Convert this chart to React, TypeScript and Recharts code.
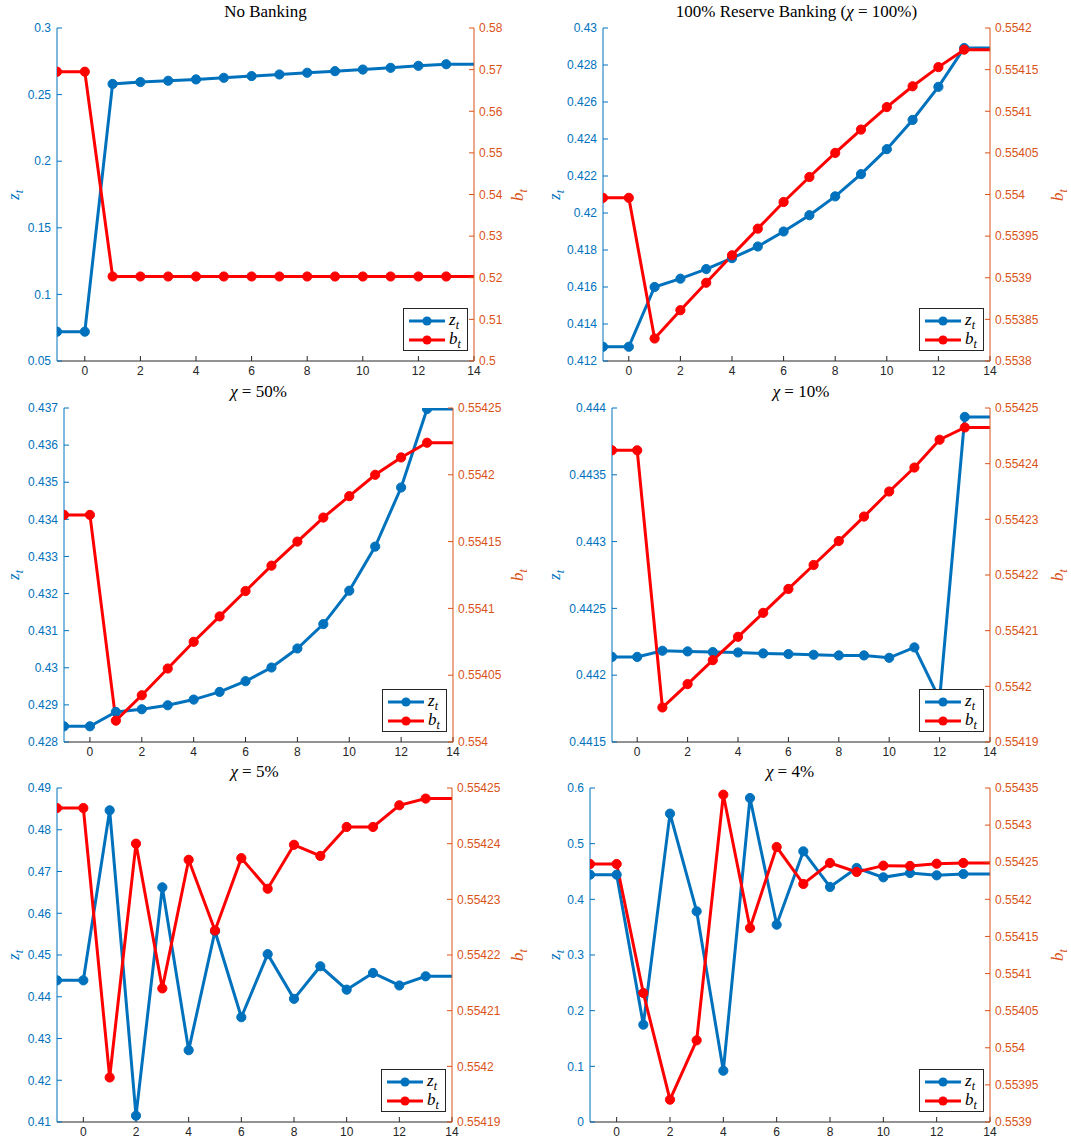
import React from 'react'
import { LineChart, Line, XAxis, YAxis, Legend } from 'recharts'

// time axis, the last point (t = 14) only carries the line to the edge
const periods = [-1, 0, 1, 2, 3, 4, 5, 6, 7, 8, 9, 10, 11, 12, 13, 14]
const xTicks = [0, 2, 4, 6, 8, 10, 12, 14]
const legendOrder = ['z', 'b']

// No Banking
const noBankZ = [0.072, 0.072, 0.258, 0.2594, 0.2604, 0.2614, 0.2626, 0.2639, 0.2651, 0.2664, 0.2676, 0.2688, 0.2701, 0.2716, 0.2728, 0.2728]
const noBankB = [0.5695, 0.5695, 0.5203, 0.5203, 0.5203, 0.5203, 0.5203, 0.5203, 0.5203, 0.5203, 0.5203, 0.5203, 0.5203, 0.5203, 0.5203, 0.5203]
const noBankZTicks = [0.05, 0.1, 0.15, 0.2, 0.25, 0.3]
const noBankBTicks = [0.5, 0.51, 0.52, 0.53, 0.54, 0.55, 0.56, 0.57, 0.58]

// chi = 100%
const chi100Z = [0.41277, 0.41277, 0.416, 0.41645, 0.41697, 0.41756, 0.41819, 0.419, 0.41988, 0.4209, 0.4221, 0.42345, 0.42503, 0.42682, 0.42892, 0.42892]
const chi100B = [0.553996, 0.553996, 0.553827, 0.553861, 0.553894, 0.553927, 0.553959, 0.553991, 0.554021, 0.55405, 0.554078, 0.554105, 0.55413, 0.554153, 0.554174, 0.554174]
const chi100ZTicks = [0.412, 0.414, 0.416, 0.418, 0.42, 0.422, 0.424, 0.426, 0.428, 0.43]
const chi100BTicks = [0.5538, 0.55385, 0.5539, 0.55395, 0.554, 0.55405, 0.5541, 0.55415, 0.5542]

// chi = 50%
const chi50Z = [0.428423, 0.428423, 0.42881, 0.428883, 0.42899, 0.429143, 0.42935, 0.429638, 0.430007, 0.43052, 0.431177, 0.432077, 0.433265, 0.434858, 0.436973, 0.436973]
const chi50B = [0.55417, 0.55417, 0.554016, 0.554035, 0.554055, 0.554075, 0.554094, 0.554113, 0.554132, 0.55415, 0.554168, 0.554184, 0.5542, 0.554213, 0.554224, 0.554224]
const chi50ZTicks = [0.428, 0.429, 0.43, 0.431, 0.432, 0.433, 0.434, 0.435, 0.436, 0.437]
const chi50BTicks = [0.554, 0.55405, 0.5541, 0.55415, 0.5542, 0.55425]

// chi = 10%
const chi10Z = [0.442137, 0.442137, 0.442183, 0.442178, 0.442173, 0.44217, 0.442163, 0.442158, 0.442153, 0.442148, 0.442148, 0.44213, 0.442208, 0.44182, 0.443933, 0.443933]
const chi10B = [0.5542424, 0.5542424, 0.5541962, 0.5542004, 0.5542047, 0.5542089, 0.5542132, 0.5542175, 0.5542218, 0.5542261, 0.5542305, 0.554235, 0.5542393, 0.5542443, 0.5542465, 0.5542465]
const chi10ZTicks = [0.4415, 0.442, 0.4425, 0.443, 0.4435, 0.444]
const chi10BTicks = [0.55419, 0.5542, 0.55421, 0.55422, 0.55423, 0.55424, 0.55425]

// chi = 5%
const chi5Z = [0.44393, 0.44393, 0.48465, 0.4115, 0.4662, 0.4272, 0.4557, 0.4351, 0.4502, 0.4395, 0.4473, 0.4417, 0.4457, 0.4427, 0.4449, 0.4449]
const chi5B = [0.5542464, 0.5542464, 0.554198, 0.55424, 0.554214, 0.5542371, 0.5542244, 0.5542374, 0.5542319, 0.5542398, 0.5542378, 0.554243, 0.554243, 0.5542469, 0.5542481, 0.5542481]
const chi5ZTicks = [0.41, 0.42, 0.43, 0.44, 0.45, 0.46, 0.47, 0.48, 0.49]
const chi5BTicks = [0.55419, 0.5542, 0.55421, 0.55422, 0.55423, 0.55424, 0.55425]

// chi = 4%
const chi4Z = [0.4443, 0.4443, 0.1749, 0.5539, 0.3784, 0.0922, 0.582, 0.3545, 0.4862, 0.4222, 0.4563, 0.4395, 0.4473, 0.4431, 0.4455, 0.4455]
const chi4B = [0.5542476, 0.5542476, 0.5540738, 0.5539301, 0.55401, 0.554341, 0.5541614, 0.5542705, 0.5542207, 0.554249, 0.5542368, 0.5542454, 0.554245, 0.554248, 0.554249, 0.554249]
const chi4ZTicks = [0, 0.1, 0.2, 0.3, 0.4, 0.5, 0.6]
const chi4BTicks = [0.5539, 0.55395, 0.554, 0.55405, 0.5541, 0.55415, 0.5542, 0.55425, 0.5543, 0.55435]

const BLUE = '#0072BD'
const RED = '#FF0000'
const ORANGE = '#D95319'
const AXIS = '#262626'
const SANS = '"Liberation Sans", Arial, sans-serif'
const SERIF = '"Liberation Serif", "Times New Roman", serif'

const LW = 65 // left y axis width
const RW = 80 // right y axis width
const MT = 12 // top margin
const XH = 26 // x axis height

interface PanelSpec {
  title: React.ReactNode
  z: number[]
  b: number[]
  zTicks: number[]
  bTicks: number[]
  plot: { l: number; r: number; t: number; b: number }
  zLabelX: number
  bLabelX: number
}

const chi = (pct: string) => (
  <span>
    <i>χ</i> = {pct}
  </span>
)

const panels: PanelSpec[] = [
  { title: 'No Banking', z: noBankZ, b: noBankB, zTicks: noBankZTicks, bTicks: noBankBTicks, plot: { l: 57, r: 474, t: 28, b: 361 }, zLabelX: 14, bLabelX: 518 },
  { title: <span>100% Reserve Banking ({chi('100%')})</span>, z: chi100Z, b: chi100B, zTicks: chi100ZTicks, bTicks: chi100BTicks, plot: { l: 603, r: 990, t: 28, b: 361 }, zLabelX: 555, bLabelX: 1058 },
  { title: chi('50%'), z: chi50Z, b: chi50B, zTicks: chi50ZTicks, bTicks: chi50BTicks, plot: { l: 64, r: 453, t: 408, b: 742 }, zLabelX: 14, bLabelX: 518 },
  { title: chi('10%'), z: chi10Z, b: chi10B, zTicks: chi10ZTicks, bTicks: chi10BTicks, plot: { l: 612, r: 990, t: 408, b: 742 }, zLabelX: 555, bLabelX: 1058 },
  { title: chi('5%'), z: chi5Z, b: chi5B, zTicks: chi5ZTicks, bTicks: chi5BTicks, plot: { l: 57, r: 452, t: 788, b: 1122 }, zLabelX: 14, bLabelX: 518 },
  { title: chi('4%'), z: chi4Z, b: chi4B, zTicks: chi4ZTicks, bTicks: chi4BTicks, plot: { l: 590, r: 990, t: 788, b: 1122 }, zLabelX: 555, bLabelX: 1058 },
]

// filled circle markers, none on the padding point at t = 14
const makeDot = (color: string) => (props: any) => {
  const { cx, cy, payload, index } = props
  if (cx == null || cy == null || payload.t === 14) return <g key={`dot-${index}`} />
  return <circle key={`dot-${index}`} cx={cx} cy={cy} r={4.6} fill={color} stroke={color} strokeWidth={1} />
}

const symbolOf = (name: string) => (
  <span style={{ fontFamily: SERIF, fontStyle: 'italic', fontSize: 17 }}>
    {name}
    <span style={{ fontSize: 12, position: 'relative', top: 4 }}>t</span>
  </span>
)

function LegendBox({ payload }: any) {
  const items = [...(payload || [])].sort(
    (a: any, b: any) => legendOrder.indexOf(a.value) - legendOrder.indexOf(b.value)
  )
  return (
    <div style={{ background: '#fff', border: `1px solid ${AXIS}`, width: 65, height: 43, boxSizing: 'border-box', padding: '2px 0 0 4px' }}>
      {items.map((entry: any) => (
        <div key={entry.value} style={{ display: 'flex', alignItems: 'center', height: 19, lineHeight: '19px' }}>
          <svg width={38} height={12} style={{ display: 'block' }}>
            <line x1={1} y1={6} x2={37} y2={6} stroke={entry.color} strokeWidth={3} />
            <circle cx={19} cy={6} r={4.6} fill={entry.color} />
          </svg>
          <span style={{ marginLeft: 3 }}>{symbolOf(entry.value)}</span>
        </div>
      ))}
    </div>
  )
}

function Panel({ spec }: { spec: PanelSpec }) {
  const { plot } = spec
  const pw = plot.r - plot.l
  const ph = plot.b - plot.t
  const left = plot.l - LW
  const top = plot.t - MT
  const width = pw + LW + RW
  const height = ph + MT + XH
  const data = periods.map((t, i) => ({ t, z: spec.z[i], b: spec.b[i] }))
  const zDomain = [spec.zTicks[0], spec.zTicks[spec.zTicks.length - 1]]
  const bDomain = [spec.bTicks[0], spec.bTicks[spec.bTicks.length - 1]]
  const tickFont = { fontSize: 12, fontFamily: SANS }

  return (
    <>
      <div
        style={{
          position: 'absolute',
          left: plot.l,
          width: pw,
          top: plot.t - 26,
          height: 20,
          lineHeight: '20px',
          textAlign: 'center',
          fontFamily: SERIF,
          fontSize: 17,
          color: '#000',
          whiteSpace: 'nowrap',
        }}
      >
        {spec.title}
      </div>
      <div style={{ position: 'absolute', left, top }}>
        <LineChart width={width} height={height} data={data} margin={{ top: MT, right: 0, bottom: 0, left: 0 }}>
          <XAxis
            xAxisId="bottom"
            dataKey="t"
            type="number"
            domain={[-1, 14]}
            ticks={xTicks}
            allowDataOverflow
            height={XH}
            stroke={AXIS}
            tickSize={-5}
            tickMargin={10}
            tick={{ ...tickFont, fill: AXIS }}
          />
          <XAxis
            xAxisId="top"
            orientation="top"
            dataKey="t"
            type="number"
            domain={[-1, 14]}
            ticks={xTicks}
            allowDataOverflow
            height={0}
            stroke={AXIS}
            tickSize={-5}
            tick={false}
          />
          <YAxis
            yAxisId="z"
            orientation="left"
            type="number"
            domain={zDomain}
            ticks={spec.zTicks}
            allowDataOverflow
            width={LW}
            stroke={BLUE}
            tickSize={-5}
            tickMargin={11}
            tick={{ ...tickFont, fill: BLUE }}
            tickFormatter={(v: number) => String(v)}
            interval={0}
          />
          <YAxis
            yAxisId="b"
            orientation="right"
            type="number"
            domain={bDomain}
            ticks={spec.bTicks}
            allowDataOverflow
            width={RW}
            stroke={ORANGE}
            tickSize={-5}
            tickMargin={10}
            tick={{ ...tickFont, fill: ORANGE }}
            tickFormatter={(v: number) => String(v)}
            interval={0}
          />
          <Line
            xAxisId="bottom"
            yAxisId="z"
            dataKey="z"
            name="z"
            stroke={BLUE}
            strokeWidth={3}
            dot={makeDot(BLUE)}
            activeDot={false}
            isAnimationActive={false}
          />
          <Line
            xAxisId="bottom"
            yAxisId="b"
            dataKey="b"
            name="b"
            stroke={RED}
            strokeWidth={3}
            dot={makeDot(RED)}
            activeDot={false}
            isAnimationActive={false}
          />
          <Legend
            layout="vertical"
            align="center"
            verticalAlign="middle"
            content={<LegendBox />}
            wrapperStyle={{ position: 'absolute', left: LW + pw - 6 - 65, top: MT + ph - 10 - 43, width: 65, height: 43 }}
          />
        </LineChart>
      </div>
      <div
        style={{
          position: 'absolute',
          left: spec.zLabelX,
          top: plot.t + ph / 2,
          transform: 'translate(-50%, -50%) rotate(-90deg)',
          color: BLUE,
          whiteSpace: 'nowrap',
        }}
      >
        {symbolOf('z')}
      </div>
      <div
        style={{
          position: 'absolute',
          left: spec.bLabelX,
          top: plot.t + ph / 2,
          transform: 'translate(-50%, -50%) rotate(-90deg)',
          color: ORANGE,
          whiteSpace: 'nowrap',
        }}
      >
        {symbolOf('b')}
      </div>
    </>
  )
}

export default function App() {
  return (
    <div style={{ position: 'absolute', left: 0, top: 0, width: 1071, height: 1146, background: '#fff', overflow: 'hidden' }}>
      {panels.map((p, i) => (
        <Panel key={i} spec={p} />
      ))}
    </div>
  )
}
